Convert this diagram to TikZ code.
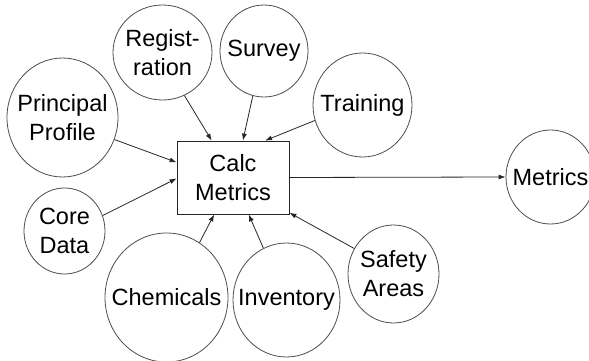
\documentclass[tikz,border=0pt]{standalone}
\usepackage{fontspec}
\setmainfont{Liberation Sans}
\usetikzlibrary{arrows.meta, shapes.geometric}

\begin{document}
\begin{tikzpicture}[x=1pt,y=-1pt,>={Latex[length=7pt,width=5pt]},
  txt/.style={align=center,font=\fontsize{23.5}{29}\selectfont},
  bubble/.style 2 args={ellipse,draw=black!70,line width=0.8pt,inner sep=0pt,minimum width=#1,minimum height=#2},
  feed/.style={->,draw=black!85,line width=0.8pt}]
  \useasboundingbox (0,0) rectangle (589,361);
  \clip (0,0) rectangle (589,361);
  \node[rectangle,draw=black!85,line width=0.8pt,minimum width=112,minimum height=73,inner sep=0pt,txt] (calc) at (233,177.5) {Calc\\Metrics}; %center box
  \node[bubble={111}{119},label={[txt]center:{Principal\\Profile}}] (prof) at (62.5,117.5) {};
  \node[bubble={99}{95},label={[txt]center:{Regist-\\ration}}] (reg) at (162.5,52.5) {};
  \node[bubble={88}{92},label={[txt]center:Survey}] (surv) at (264,51) {};
  \node[bubble={99}{104},label={[txt]center:Training}] (train) at (362.5,105) {};
  \node[bubble={81}{86},label={[txt]center:{Core\\Data}}] (core) at (64.5,231) {};
  \node[bubble={123}{129},label={[txt]center:Chemicals}] (chem) at (166.5,297.5) {};
  \node[bubble={107}{114},label={[txt]center:Inventory}] (inv) at (286.5,300) {};
  \node[bubble={91}{98},label={[txt]center:{Safety\\Areas}}] (safe) at (393.5,274) {};
  \node[bubble={89}{94},label={[txt]center:Metrics}] (met) at (550.5,177) {}; %output
  \draw[feed] (prof.337) -- (calc.165.7);
  \draw[feed] (reg.297.5) -- (calc.120.2);
  \draw[feed] (surv.256) -- (calc.75.8);
  \draw[feed] (train.198.8) -- (calc.49.3);
  \draw[feed] (core.22.5) -- (calc.181.5);
  \draw[feed] (chem.59.8) -- (calc.243);
  \draw[feed] (inv.114) -- (calc.293);
  \draw[feed] (safe.147.6) -- (calc.328.5);
  \draw[feed] (calc.east) -- (met.west);
\end{tikzpicture}
\end{document}
